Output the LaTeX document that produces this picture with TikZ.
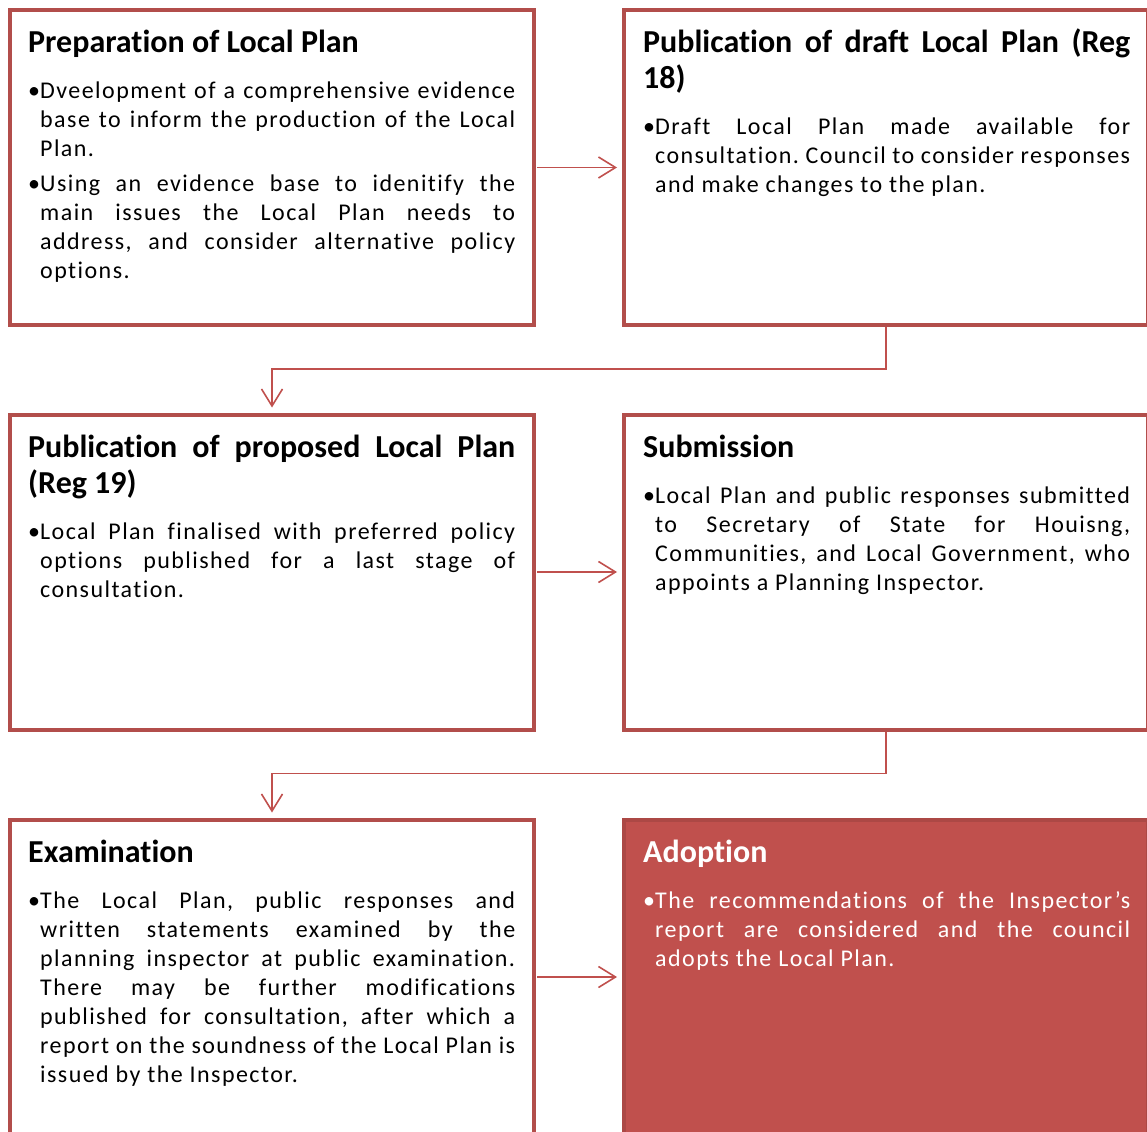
\documentclass[tikz,border=0pt]{standalone}
\usepackage{fontspec}
\setmainfont[RawFeature=-liga]{Carlito}
\newfontfamily\bodyfont[RawFeature=-liga, LetterSpace=6.0]{Carlito}
\usetikzlibrary{arrows.meta}
\definecolor{bord}{HTML}{B24E4B}
\definecolor{conn}{HTML}{C0504D}
\definecolor{accent}{HTML}{C0504D}
\definecolor{accentdark}{HTML}{AC4845}
\newcommand{\hd}[1]{{\normalfont\fontsize{32}{36}\selectfont\bfseries #1\par}\vspace{11pt}}
\newcommand{\bul}[1]{\hangindent=12pt\hangafter=1\noindent\makebox[12pt][l]{•}#1\par}
\newcommand{\boxtext}[1]{\parbox[t]{487pt}{\frenchspacing\fontsize{24}{29}\bodyfont\selectfont\hyphenpenalty=10000\exhyphenpenalty=10000\tolerance=10000\emergencystretch=20pt\parskip=6pt\rightskip=0pt #1}}
\tikzset{
  stagebox/.style={draw=bord, line width=4pt, fill=white, minimum width=524pt, minimum height=315pt, inner sep=0pt},
  finalbox/.style={draw=accentdark, line width=4pt, fill=accent, minimum width=524pt, minimum height=315pt, inner sep=0pt},
  txt/.style={anchor=base west, inner sep=0pt, align=left},
  conn/.style={draw=conn, line width=1.6pt, -{Straight Barb[length=17pt,width=21pt,line width=1.6pt]}}
}
\begin{document}
\begin{tikzpicture}[x=1pt,y=-1pt]
\useasboundingbox (0,0) rectangle (1147,1131);
\node[stagebox] (b1) at (272,167.5) {};
\node[stagebox] (b2) at (886,167.5) {};
\node[stagebox] (b3) at (272,572) {};
\node[stagebox] (b4) at (886,572) {};
\node[stagebox] (b5) at (272,977) {};
\node[finalbox] (b6) at (886,977) {};

\node[txt] (t1) at (28,53) {\boxtext{\hd{Preparation of Local Plan}%
\bul{Dveelopment of a comprehensive evidence\linebreak base to inform the production of the Local\linebreak Plan.}%
\bul{Using an evidence base to idenitify the\linebreak main issues the Local Plan needs to\linebreak address, and consider alternative policy\linebreak options.}}};
\node[txt] (t2) at (643,53) {\boxtext{\hd{Publication of draft Local Plan (Reg\linebreak 18)}%
\bul{Draft Local Plan made available for\linebreak consultation. Council to consider responses\linebreak and make changes to the plan.}}};
\node[txt] (t3) at (28,457) {\boxtext{\hd{Publication of proposed Local Plan\linebreak (Reg 19)}%
\bul{Local Plan finalised with preferred policy\linebreak options published for a last stage of\linebreak consultation.}}};
\node[txt] (t4) at (643,457) {\boxtext{\hd{Submission}%
\bul{Local Plan and public responses submitted\linebreak to Secretary of State for Houisng,\linebreak Communities, and Local Government, who\linebreak appoints a Planning Inspector.}}};
\node[txt] (t5) at (28,862) {\boxtext{\hd{Examination}%
\bul{The Local Plan, public responses and\linebreak written statements examined by the\linebreak planning inspector at public examination.\linebreak There may be further modifications\linebreak published for consultation, after which a\linebreak report on the soundness of the Local Plan is\linebreak issued by the Inspector.}}};
\node[txt, text=white] (t6) at (643,862) {\boxtext{\hd{Adoption}%
\bul{The recommendations of the Inspector’s\linebreak report are considered and the council\linebreak adopts the Local Plan.}}};

\draw[conn] ([xshift=1pt]b1.east) -- ([xshift=-5pt]b2.west);
\draw[conn] ([xshift=1pt]b3.east) -- ([xshift=-5pt]b4.west);
\draw[conn] ([xshift=1pt]b5.east) -- ([xshift=-5pt]b6.west);
\draw[conn] (b2.south) -- ++(0,42) -| ([yshift=5pt]b3.north);
\draw[conn] (b4.south) -- ++(0,42) -| ([yshift=5pt]b5.north);
\end{tikzpicture}
\end{document}
